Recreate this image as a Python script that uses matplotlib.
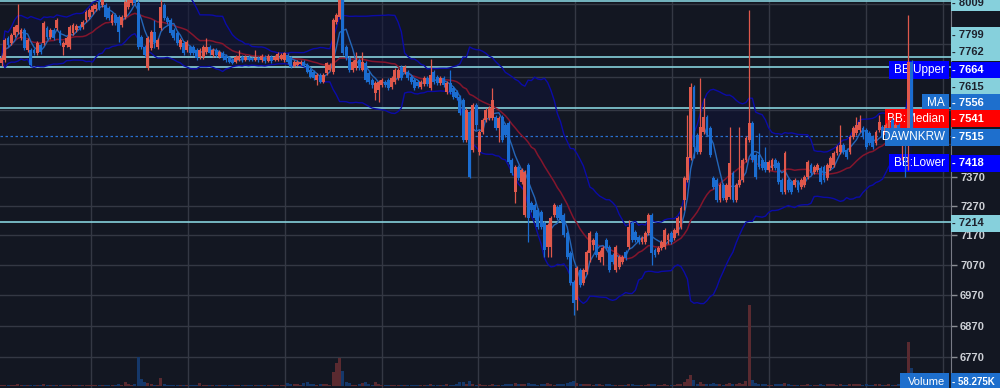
import numpy as np
import pandas as pd
import matplotlib
matplotlib.use("Agg")
import matplotlib.pyplot as plt
from matplotlib.patches import Rectangle
from matplotlib.ticker import FixedLocator, FixedFormatter, NullFormatter

# DAWN/KRW candles (KRW)
opens = [
    7777, 7788, 7870, 7851, 7881, 7892, 7870, 7900, 7825, 7825,
    7825, 7813, 7844, 7851, 7907, 7873, 7900, 7907, 7892, 7836,
    7844, 7836, 7888, 7900, 7914, 7911, 7937, 7948, 7967, 7978,
    8008, 7993, 7993, 7982, 7926, 7956, 7948, 7918, 7948, 7986,
    8001, 8012, 8001, 7873, 7836, 7759, 7832, 7892, 7836, 7907,
    7993, 7944, 7937, 7900, 7888, 7836, 7851, 7825, 7836, 7836,
    7825, 7798, 7798, 7817, 7836, 7806, 7825, 7798, 7813, 7802,
    7794, 7788, 7781, 7788, 7798, 7788, 7798, 7794, 7788, 7794,
    7788, 7798, 7784, 7798, 7788, 7788, 7791, 7788, 7806, 7794,
    7766, 7770, 7774, 7781, 7770, 7752, 7745, 7716, 7734, 7708,
    7741, 7752, 7745, 7930, 7948, 8012, 7836, 7794, 7752, 7759,
    7788, 7752, 7777, 7741, 7716, 7669, 7680, 7698, 7708, 7716,
    7690, 7708, 7723, 7763, 7745, 7745, 7726, 7716, 7708, 7690,
    7701, 7723, 7687, 7745, 7726, 7705, 7723, 7672, 7705, 7687,
    7672, 7654, 7643, 7500, 7600, 7465, 7625, 7458, 7528, 7571,
    7578, 7578, 7582, 7542, 7582, 7553, 7560, 7430, 7318, 7405,
    7353, 7239, 7412, 7280, 7273, 7256, 7249, 7212, 7131, 7131,
    7239, 7266, 7273, 7239, 7178, 7111, 7015, 6956, 7054, 7012,
    7048, 7111, 7138, 7178, 7087, 7097, 7155, 7131, 7104, 7054,
    7064, 7080, 7114, 7131, 7212, 7182, 7165, 7148, 7148, 7178,
    7239, 7121, 7114, 7128, 7131, 7155, 7178, 7161, 7178, 7199,
    7290, 7360, 7437, 7690, 7517, 7458, 7528, 7582, 7542, 7367,
    7360, 7290, 7342, 7290, 7300, 7384, 7290, 7342, 7360, 7430,
    7500, 7560, 7447, 7447, 7430, 7423, 7395, 7402, 7430, 7419,
    7360, 7318, 7360, 7353, 7342, 7353, 7335, 7342, 7370, 7412,
    7388, 7395, 7402, 7405, 7367, 7402, 7412, 7454, 7458, 7482,
    7465, 7458, 7510, 7524, 7535, 7542, 7535, 7524, 7510, 7489,
    7535, 7546, 7517, 7535, 7571, 7528, 7553, 7500, 7535, 7500,
    7781,
]
highs = [
    7806, 7870, 7877, 7888, 7918, 7997, 7907, 7907, 7870, 7832,
    7832, 7858, 7851, 7933, 7914, 7907, 7907, 7944, 7900, 7858,
    7877, 7918, 7926, 7922, 7922, 7937, 7974, 7982, 7997, 8001,
    8016, 8020, 8001, 7990, 7963, 7963, 7956, 7956, 8012, 8023,
    8031, 8023, 8012, 7881, 7844, 7877, 7900, 7937, 7870, 8012,
    8001, 7952, 7944, 7907, 7896, 7870, 7858, 7862, 7844, 7844,
    7832, 7832, 7844, 7870, 7844, 7832, 7832, 7825, 7821, 7810,
    7802, 7794, 7806, 7825, 7806, 7806, 7806, 7798, 7825, 7802,
    7810, 7806, 7810, 7806, 7806, 7817, 7813, 7817, 7813, 7802,
    7788, 7788, 7788, 7788, 7777, 7759, 7752, 7741, 7741, 7741,
    7781, 7777, 7944, 7963, 8031, 8023, 7844, 7802, 7788, 7817,
    7794, 7817, 7784, 7748, 7723, 7712, 7716, 7723, 7716, 7723,
    7730, 7759, 7759, 7770, 7770, 7752, 7734, 7723, 7716, 7716,
    7730, 7730, 7791, 7752, 7734, 7730, 7730, 7712, 7752, 7694,
    7680, 7661, 7651, 7614, 7607, 7632, 7632, 7535, 7578, 7614,
    7622, 7687, 7589, 7585, 7589, 7560, 7567, 7437, 7412, 7412,
    7402, 7395, 7419, 7287, 7280, 7263, 7256, 7219, 7212, 7236,
    7280, 7273, 7280, 7246, 7185, 7117, 7021, 7067, 7061, 7061,
    7121, 7185, 7161, 7185, 7121, 7134, 7161, 7138, 7111, 7138,
    7104, 7104, 7121, 7222, 7219, 7189, 7172, 7168, 7185, 7246,
    7246, 7128, 7134, 7155, 7195, 7178, 7185, 7195, 7236, 7270,
    7374, 7589, 7705, 7698, 7524, 7723, 7651, 7589, 7549, 7374,
    7367, 7349, 7349, 7349, 7546, 7391, 7349, 7546, 7437, 7514,
    7974, 7567, 7454, 7524, 7437, 7475, 7430, 7437, 7437, 7426,
    7367, 7461, 7367, 7360, 7367, 7360, 7367, 7377, 7430, 7419,
    7412, 7419, 7409, 7412, 7419, 7444, 7461, 7482, 7553, 7489,
    7472, 7517, 7549, 7582, 7589, 7549, 7542, 7531, 7517, 7535,
    7589, 7553, 7560, 7578, 7578, 7560, 7560, 7542, 7542, 7956,
    7788,
]
lows = [
    7766, 7781, 7836, 7844, 7873, 7884, 7862, 7825, 7817, 7766,
    7806, 7806, 7810, 7844, 7866, 7866, 7862, 7900, 7844, 7806,
    7836, 7828, 7881, 7892, 7900, 7903, 7930, 7941, 7960, 7971,
    7974, 7986, 7941, 7937, 7918, 7918, 7854, 7911, 7941, 7978,
    7993, 7993, 7828, 7828, 7798, 7752, 7825, 7832, 7828, 7900,
    7937, 7922, 7881, 7862, 7844, 7828, 7806, 7817, 7806, 7806,
    7788, 7791, 7791, 7810, 7806, 7798, 7798, 7794, 7788, 7781,
    7777, 7774, 7777, 7784, 7781, 7784, 7784, 7784, 7784, 7781,
    7781, 7777, 7781, 7777, 7784, 7784, 7788, 7781, 7774, 7759,
    7763, 7766, 7770, 7763, 7741, 7723, 7716, 7698, 7705, 7705,
    7734, 7748, 7737, 7922, 7941, 7806, 7788, 7745, 7745, 7752,
    7752, 7748, 7708, 7701, 7687, 7643, 7636, 7690, 7690, 7680,
    7683, 7701, 7716, 7716, 7737, 7716, 7701, 7680, 7687, 7683,
    7694, 7694, 7680, 7701, 7698, 7698, 7690, 7665, 7665, 7647,
    7643, 7589, 7493, 7493, 7367, 7458, 7535, 7447, 7521, 7564,
    7571, 7571, 7535, 7493, 7493, 7510, 7416, 7377, 7280, 7360,
    7346, 7232, 7148, 7249, 7222, 7192, 7192, 7097, 7097, 7097,
    7232, 7222, 7216, 7165, 7090, 7005, 6907, 6923, 6999, 7005,
    7041, 7080, 7121, 7097, 7080, 7071, 7121, 7048, 7074, 7048,
    7058, 7074, 7087, 7124, 7148, 7148, 7141, 7141, 7141, 7172,
    7071, 7097, 7107, 7121, 7124, 7141, 7141, 7155, 7172, 7192,
    7256, 7353, 7430, 7437, 7451, 7451, 7521, 7517, 7440, 7328,
    7283, 7283, 7290, 7283, 7293, 7283, 7283, 7335, 7353, 7423,
    7493, 7423, 7363, 7398, 7395, 7388, 7388, 7395, 7395, 7346,
    7311, 7311, 7318, 7311, 7335, 7318, 7328, 7335, 7363, 7377,
    7381, 7388, 7346, 7353, 7360, 7395, 7405, 7447, 7451, 7451,
    7433, 7451, 7503, 7517, 7528, 7503, 7468, 7482, 7468, 7482,
    7528, 7503, 7510, 7528, 7528, 7521, 7510, 7430, 7370, 7395,
    7500,
]
closes = [
    7794, 7862, 7844, 7881, 7911, 7918, 7900, 7832, 7862, 7770,
    7813, 7851, 7817, 7926, 7873, 7900, 7870, 7937, 7851, 7851,
    7870, 7911, 7918, 7914, 7907, 7930, 7967, 7974, 7990, 7993,
    7982, 8012, 7948, 7944, 7956, 7926, 7892, 7948, 8004, 8012,
    8016, 8001, 7836, 7836, 7806, 7870, 7892, 7854, 7862, 7986,
    7944, 7930, 7888, 7870, 7851, 7862, 7813, 7854, 7813, 7813,
    7794, 7825, 7836, 7836, 7813, 7825, 7806, 7817, 7794, 7788,
    7781, 7777, 7798, 7802, 7788, 7798, 7788, 7788, 7794, 7788,
    7802, 7784, 7802, 7784, 7798, 7810, 7806, 7813, 7781, 7763,
    7781, 7781, 7781, 7766, 7745, 7726, 7723, 7734, 7708, 7734,
    7777, 7770, 7937, 7956, 8012, 7813, 7794, 7752, 7781, 7788,
    7759, 7781, 7716, 7708, 7698, 7705, 7708, 7716, 7698, 7687,
    7723, 7752, 7752, 7723, 7763, 7723, 7708, 7687, 7694, 7708,
    7723, 7701, 7734, 7708, 7705, 7723, 7698, 7705, 7672, 7654,
    7651, 7596, 7500, 7607, 7370, 7625, 7553, 7528, 7571, 7607,
    7614, 7643, 7542, 7578, 7500, 7517, 7423, 7384, 7405, 7367,
    7395, 7388, 7229, 7256, 7229, 7199, 7199, 7121, 7205, 7229,
    7273, 7229, 7222, 7172, 7097, 7012, 6946, 7061, 7005, 7054,
    7114, 7178, 7155, 7104, 7114, 7128, 7128, 7054, 7080, 7131,
    7097, 7097, 7094, 7199, 7155, 7155, 7148, 7161, 7178, 7239,
    7111, 7104, 7128, 7148, 7189, 7172, 7148, 7189, 7229, 7263,
    7367, 7440, 7690, 7475, 7458, 7546, 7582, 7524, 7447, 7335,
    7290, 7342, 7297, 7342, 7419, 7290, 7342, 7360, 7430, 7507,
    7560, 7430, 7370, 7405, 7402, 7395, 7423, 7430, 7402, 7353,
    7318, 7454, 7325, 7318, 7360, 7325, 7360, 7370, 7423, 7384,
    7405, 7412, 7353, 7360, 7412, 7437, 7454, 7475, 7482, 7458,
    7440, 7510, 7542, 7553, 7564, 7510, 7475, 7489, 7475, 7528,
    7564, 7510, 7553, 7571, 7535, 7553, 7517, 7535, 7500, 7781,
    7515,
]
# volume per candle, thousands
volume_k = [
    3, 2, 4, 2, 3, 6, 2, 3, 2, 4,
    2, 3, 2, 5, 3, 2, 3, 4, 2, 3,
    4, 2, 3, 2, 2, 3, 4, 3, 2, 3,
    3, 4, 2, 3, 2, 3, 5, 3, 13, 6,
    4, 5, 94, 23, 12, 10, 5, 4, 3, 27,
    8, 3, 3, 2, 3, 4, 3, 2, 3, 4,
    3, 9, 4, 3, 2, 3, 2, 2, 3, 2,
    2, 3, 2, 3, 2, 2, 3, 2, 4, 2,
    2, 3, 2, 2, 3, 4, 3, 2, 9, 6,
    5, 6, 3, 10, 13, 7, 5, 4, 8, 6,
    5, 4, 45, 75, 91, 49, 13, 10, 4, 3,
    8, 10, 13, 7, 4, 13, 6, 3, 2, 3,
    4, 2, 3, 2, 2, 3, 2, 2, 3, 2,
    3, 2, 6, 3, 2, 4, 3, 5, 3, 4,
    5, 12, 13, 6, 16, 7, 4, 6, 3, 2,
    3, 5, 3, 4, 3, 6, 8, 7, 9, 5,
    6, 8, 10, 5, 6, 4, 7, 8, 9, 5,
    4, 5, 6, 8, 9, 12, 15, 11, 6, 5,
    6, 7, 4, 5, 6, 4, 5, 7, 4, 3,
    4, 3, 3, 5, 6, 4, 3, 3, 4, 5,
    8, 5, 3, 4, 5, 4, 3, 4, 6, 8,
    14, 22, 35, 18, 8, 12, 6, 5, 7, 9,
    6, 5, 4, 5, 10, 6, 5, 9, 8, 15,
    262, 18, 10, 6, 5, 6, 4, 3, 5, 7,
    6, 9, 5, 4, 3, 4, 3, 4, 6, 3,
    3, 4, 5, 4, 5, 6, 5, 4, 6, 3,
    4, 6, 5, 7, 6, 4, 5, 4, 3, 5,
    6, 4, 3, 5, 4, 3, 6, 10, 14, 142,
    58.275,
]

# horizontal support/resistance lines
levels = [8009, 7799, 7762, 7615, 7214]
price_ticks = [6770, 6870, 6970, 7070, 7170, 7270, 7370]

# last values printed on the price scale
symbol = "DAWNKRW"
bb_upper_last = 7664
ma_last = 7556
bb_median_last = 7541
bb_lower_last = 7418
volume_last = "58.275K"

bg = "#131722"
grid_c = "#343844"
up_c = "#e0584c"
down_c = "#1b6dd1"
cyan = "#86d0dc"

o = np.array(opens, float)
h = np.array(highs, float)
l = np.array(lows, float)
c = np.array(closes, float)
v = np.array(volume_k, float)
x = np.arange(len(c))

cs = pd.Series(c)
ma = cs.rolling(5, min_periods=1).mean()
mid = cs.rolling(20, min_periods=1).mean()
sd = cs.rolling(20, min_periods=2).std(ddof=0).fillna(0)
upper = mid + 2 * sd
lower = mid - 2 * sd

fig = plt.figure(figsize=(10, 3.88), dpi=100, facecolor=bg)
ax = fig.add_axes([0, 0, 0.951, 1])
ax.set_facecolor(bg)
ax.set_yscale("log")

# bollinger band + lines
ax.fill_between(x, lower, upper, color="#10143a", alpha=0.5, lw=0, zorder=1)
ax.plot(x, upper, color="#0b0ba8", lw=1.0, zorder=2)
ax.plot(x, lower, color="#0b0ba8", lw=1.0, zorder=2)
ax.plot(x, mid, color="#84152c", lw=1.1, zorder=2.2)
ax.plot(x, ma, color="#2466b8", lw=1.0, zorder=2.3)

for lv in levels:
    ax.axhline(lv, color=cyan, lw=1.2, zorder=1.5)
ax.axhline(c[-1], color="#2a6fcf", lw=0.9, ls=(0, (2, 2)), zorder=1.5)

# candles
rising = c >= o
col = np.where(rising, up_c, down_c)
ax.vlines(x, l, h, colors=col, lw=0.9, zorder=3)
body_lo = np.minimum(o, c)
body_h = np.maximum(np.abs(c - o), 2)
ax.bar(x, body_h, bottom=body_lo, width=0.86, color=col, lw=0, zorder=4)

# volume overlay
ax2 = ax.twinx()
vcol = np.where(rising, "#5a2a30", "#15386a")
ax2.bar(x, v, width=0.95, color=vcol, lw=0, zorder=1)
ax2.set_ylim(-6.5, 1250)
ax2.set_axis_off()

ax.set_xlim(-0.49, 292.1)
ax.set_ylim(6672, 8012)

ax.yaxis.tick_right()
ax.yaxis.set_major_locator(FixedLocator(price_ticks))
ax.yaxis.set_major_formatter(FixedFormatter([str(t) for t in price_ticks]))
ax.yaxis.set_minor_locator(FixedLocator([7486, 7607, 7726, 7847, 7997]))
ax.yaxis.set_minor_formatter(NullFormatter())
ax.tick_params(axis="y", which="major", colors="#8a8d94", labelcolor="#cdd0d6",
               length=4, width=1, pad=2.5, labelsize=8)
ax.tick_params(axis="y", which="minor", length=0)
for t in ax.get_yticklabels():
    t.set_fontweight("bold")
    t.set_fontfamily("Liberation Sans")
ax.set_xticks([27.5, 57.3, 87.1, 116.9, 146.7, 176.5, 206.3, 236.1, 265.9, 289.7])
ax.tick_params(axis="x", length=0, labelbottom=False)
ax.grid(True, which="both", color=grid_c, lw=1, zorder=0)
ax.set_axisbelow(True)
for s in ["left", "top", "bottom"]:
    ax.spines[s].set_visible(False)
ax.spines["right"].set_color("#787b86")


def fy(py):
    return 1 - py / 388


# labels inside the plot
def inner_box(target, x0, yc, color, text, z=2.6, fs=8.5):
    target.add_patch(Rectangle((x0 / 1000, fy(yc + 9)), (949 - x0) / 1000, 18 / 388,
                               transform=fig.transFigure, facecolor=color, lw=0,
                               zorder=z, clip_on=False))
    target.text(945 / 1000, fy(yc), text, transform=fig.transFigure, color="white",
                fontsize=fs, ha="right", va="center", family="Liberation Sans",
                zorder=z + 0.05)


# labels on the price scale
def scale_box(yc, color, text, tcolor, hgt=17, fs=8):
    fig.add_artist(Rectangle((951 / 1000, fy(yc + hgt / 2)), 49 / 1000, hgt / 388,
                             transform=fig.transFigure, facecolor=color, lw=0, zorder=5))
    fig.text(952 / 1000, fy(yc), "- " + text, color=tcolor, fontsize=fs,
             fontweight="bold", ha="left", va="center", family="Liberation Sans",
             zorder=6)


inner_box(ax, 889, 70, "#0000ff", "BB:Upper")
inner_box(ax, 922, 102.5, "#1e6fcd", "MA")
inner_box(ax, 885, 118.5, "#ff0000", "BB:Median")
inner_box(ax, 885, 137, "#1e6fcd", symbol, z=5)
inner_box(ax, 889, 163, "#0000ff", "BB:Lower")
inner_box(ax2, 900, 382, "#1e6fcd", "Volume", z=5, fs=8)

dark_txt = "#1e222d"
scale_box(3, cyan, str(levels[0]), dark_txt, hgt=15)
scale_box(35, cyan, str(levels[1]), dark_txt)
scale_box(52, cyan, str(levels[2]), dark_txt)
scale_box(70, "#0000ff", str(bb_upper_last), "white")
scale_box(86.5, cyan, str(levels[3]), dark_txt)
scale_box(102.5, "#1e6fcd", str(ma_last), "white")
scale_box(118.5, "#ff0000", str(bb_median_last), "white")
scale_box(137, "#1e6fcd", str(int(c[-1])), "white")
scale_box(163, "#0000ff", str(bb_lower_last), "white")
scale_box(223.5, cyan, str(levels[4]), dark_txt)
scale_box(382, "#1e6fcd", volume_last, "white", hgt=18, fs=7)

fig.savefig("out.png", dpi=100, facecolor=bg)
